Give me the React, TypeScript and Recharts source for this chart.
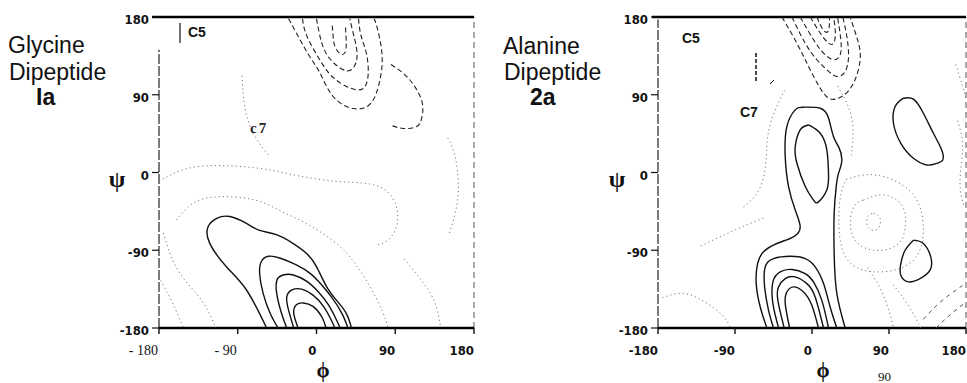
import React from "react";
import { ScatterChart, Scatter, XAxis, YAxis, ReferenceLine } from "recharts";

type P = [number, number]; // [phi, psi]

const phiTicks = [-180, -90, 0, 90, 180];
const psiTicks = [-180, -90, 0, 90, 180];

// ---- Glycine dipeptide (1a) ----
const glyS1: P[] = [[-57, -180], [-80, -136], [-103, -109], [-122, -82], [-124, -63], [-114, -53], [-99, -51], [-80, -59], [-65, -67], [-46, -72], [-27, -82], [-11, -94], [0, -109], [11.5, -132], [23, -148], [34, -163], [40, -180]];
const glyS2: P[] = [[-44, -180], [-53, -163], [-61, -140], [-65, -117], [-63, -103], [-55, -97], [-42, -99], [-23, -107], [-7, -117], [4, -128], [17, -144], [29, -163], [36, -180]];
const glyS3: P[] = [[-34, -180], [-40, -163], [-45.5, -140], [-45, -124], [-38, -118.6], [-26.5, -118.6], [-11, -126], [2, -138], [13.5, -153], [23, -171], [27, -180]];
const glyS4: P[] = [[-26, -180], [-32, -159], [-34, -144], [-28, -136], [-17, -135], [-4, -142], [8, -155], [17, -171], [21, -180]];
const glyS5: P[] = [[-21, -180], [-26, -163], [-23, -153], [-15, -151], [-4, -155], [6, -167], [11, -180]];

const glyD1: P[] = [[18, 170], [19, 158], [21, 146], [27, 137.5], [32, 138], [34, 148], [33, 170]];
const glyD2: P[] = [[0, 178], [6, 150], [15, 132], [27, 121], [38, 118], [45, 127], [46, 142], [42, 161], [38, 178]];
const glyD3: P[] = [[-16, 178], [-11, 158], [4, 130], [19, 110], [38, 98], [53, 97], [59, 113], [57, 138], [51, 158], [48, 178]];
const glyD4: P[] = [[-32, 178], [-27, 169], [-10, 138], [4, 115], [19, 88], [42, 74], [62, 80], [72, 105], [75, 135], [70, 165], [66, 178]];
const glyD5: P[] = [[85, 125], [99, 115], [112, 100], [121, 80], [120, 62], [114, 53], [99, 51], [84, 55]];

const glyT1: P[] = [[-160, -55], [-140, -35], [-110, -28], [-70, -32], [-40, -45], [-10, -60], [20, -80], [40, -100], [60, -130], [75, -160], [82, -180]];
const glyT2: P[] = [[-180, -10], [-150, 4], [-110, 8], [-60, 4], [-20, -4], [20, -10], [50, -12], [75, -18], [90, -36], [92, -60], [82, -78], [68, -84]];
const glyT3: P[] = [[-175, -70], [-165, -100], [-150, -125], [-130, -150], [-115, -180]];
const glyT4: P[] = [[-178, -125], [-165, -150], [-152, -180]];
const glyT5: P[] = [[-85, 112], [-82, 76], [-72, 45], [-55, 20]];
const glyT6: P[] = [[100, -100], [120, -125], [135, -150], [142, -180]];
const glyT7: P[] = [[150, 40], [158, 20], [162, -10], [160, -40], [152, -70]];

// ---- Alanine dipeptide (2a) ----
const alaS1: P[] = [[-4, 55], [9.6, 45.4], [17.4, 26], [19.3, -1], [17.4, -20], [7.6, -34], [1.8, -32], [-8, -16], [-17.7, 11], [-19.6, 30], [-13.8, 49.3], [-4, 55]];
const alaS2: P[] = [[-52.7, -180], [-60.5, -155.7], [-65.2, -128.6], [-63.6, -105.4], [-56.6, -91.8], [-41, -82.2], [-21.6, -74.4], [-13.8, -62.8], [-19.6, -43.5], [-27.4, -16.4], [-31.3, 18.4], [-29.4, 53.2], [-19.6, 72.5], [-10, 75.6], [9.6, 74.4], [19.3, 63], [25.1, 41.6], [31, 30], [34.9, 14.5], [31, -1], [28.3, -16.4], [25.9, -47.4], [25.9, -93.8], [29, -140], [38.8, -180]];
const alaS3: P[] = [[-45, -180], [-50.8, -159.5], [-55.4, -132.4], [-54.7, -109.2], [-45, -99.6], [-25.5, -96.9], [-8, -99.6], [3.7, -109.2], [13.5, -128.6], [21.2, -155.7], [29, -180]];
const alaS4: P[] = [[-39, -180], [-45.7, -151.8], [-45.7, -126.6], [-37.1, -115], [-23.5, -112.3], [-8, -117], [1.8, -126.6], [11.5, -148], [19.3, -180]];
const alaS5: P[] = [[-32.5, -180], [-39.9, -148], [-39.1, -132.4], [-31.3, -122.8], [-19.6, -120.9], [-6, -128.6], [3.7, -144], [13.5, -180]];
const alaS6: P[] = [[-26.2, -180], [-31.3, -151.8], [-29.4, -138.3], [-21.6, -132.4], [-9.9, -138.3], [-0.2, -153.7], [7.6, -180]];
const alaS7: P[] = [[106.9, 86], [118.6, 84.9], [130.2, 68.6], [141.9, 45.4], [151.6, 26.1], [152.8, 14.5], [145.8, 10.6], [134.1, 8.7], [118.6, 16.4], [103.8, 33.8], [95.2, 57], [97.2, 76.4], [106.9, 86]];
const alaS8: P[] = [[118.6, -78.3], [130.2, -82.2], [138.8, -97.6], [138, -113.1], [126.3, -122.8], [112.7, -126.6], [103.8, -118.9], [103.8, -105.4], [108.8, -90], [118.6, -78.3]];

const alaD1: P[] = [[-35.2, 180], [-17.7, 149.8], [-4.1, 122.8], [9.6, 97.6], [21.2, 85.3], [34.9, 88], [48.5, 103.4], [56.3, 130.5], [53.2, 153.7], [44.6, 180]];
const alaD2: P[] = [[-23.5, 180], [-8, 149.8], [5.7, 130.5], [17.4, 118.9], [29, 111.2], [38.8, 117], [42.7, 134.4], [40.7, 157.6], [36, 180]];
const alaD3: P[] = [[-13.8, 180], [1.8, 153.7], [13.5, 138.2], [25.1, 130.5], [32.9, 136.3], [33.7, 153.7], [29.8, 180]];
const alaD4: P[] = [[-2.1, 180], [9.6, 161.4], [19.3, 149.8], [25.9, 150.6], [27.1, 165.3], [25.1, 180]];
const alaD5: P[] = [[5.7, 180], [13.5, 164.5], [19.3, 164.5], [20.5, 180]];
const alaD6: P[] = [[130, -170], [150, -150], [170, -135], [180, -128]];
const alaD7: P[] = [[145, -180], [160, -166], [180, -150]];

const alaT1: P[] = [[72, -47], [78, -50], [80, -57], [78, -64], [72, -67], [66, -64], [64, -57], [66, -50], [72, -47]];
const alaT2: P[] = [[60, -32], [83.5, -26], [105, -38], [109, -63], [99, -84], [72, -90], [50, -78], [45, -55], [50, -38], [60, -32]];
const alaT3: P[] = [[40, -8], [75, -3], [115, -22], [130, -60], [120, -100], [82, -115], [45, -105], [32, -70], [33, -30], [40, -8]];
const alaT4: P[] = [[-130, -85], [-100, -71], [-75, -60], [-55, -52]];
const alaT5: P[] = [[-80, -40], [-62, -20], [-54, 10], [-52, 40], [-44, 70], [-32, 95]];
const alaT6: P[] = [[30, 100], [44, 72], [48, 45], [46, 20]];
const alaT7: P[] = [[95, -130], [110, -150], [122, -170], [127, -180]];
const alaT8: P[] = [[65, -110], [80, -135], [90, -160], [95, -180]];
const alaT9: P[] = [[-175, -145], [-150, -140], [-125, -150], [-105, -165], [-95, -180]];
const alaT10: P[] = [[168, 125], [176, 100], [180, 85]];
const alaT11: P[] = [[170, 60], [176, 30], [173, -10], [178, -40]];

const SOLID = { stroke: "#111", strokeWidth: 1.4 };
const DASH = { stroke: "#222", strokeWidth: 1.1, strokeDasharray: "5 3" };
const FAINT = { stroke: "#555", strokeWidth: 1, strokeDasharray: "4 4" };
const DOT = { stroke: "#777", strokeWidth: 1, strokeDasharray: "1.2 3" };

const glySeries = [
  { data: glyS1, line: SOLID }, { data: glyS2, line: SOLID }, { data: glyS3, line: SOLID },
  { data: glyS4, line: SOLID }, { data: glyS5, line: SOLID },
  { data: glyD1, line: DASH }, { data: glyD2, line: DASH }, { data: glyD3, line: DASH },
  { data: glyD4, line: DASH }, { data: glyD5, line: DASH },
  { data: glyT1, line: DOT }, { data: glyT2, line: DOT }, { data: glyT3, line: DOT },
  { data: glyT4, line: DOT }, { data: glyT5, line: DOT }, { data: glyT6, line: DOT }, { data: glyT7, line: DOT },
];

const alaSeries = [
  { data: alaS1, line: SOLID }, { data: alaS2, line: SOLID }, { data: alaS3, line: SOLID },
  { data: alaS4, line: SOLID }, { data: alaS5, line: SOLID }, { data: alaS6, line: SOLID },
  { data: alaS7, line: SOLID }, { data: alaS8, line: SOLID },
  { data: alaD1, line: DASH }, { data: alaD2, line: DASH }, { data: alaD3, line: DASH },
  { data: alaD4, line: DASH }, { data: alaD5, line: DASH }, { data: alaD6, line: FAINT }, { data: alaD7, line: FAINT },
  { data: alaT1, line: DOT }, { data: alaT2, line: DOT }, { data: alaT3, line: DOT }, { data: alaT4, line: DOT },
  { data: alaT5, line: DOT }, { data: alaT6, line: DOT }, { data: alaT7, line: DOT }, { data: alaT8, line: DOT },
  { data: alaT9, line: DOT }, { data: alaT10, line: DOT }, { data: alaT11, line: DOT },
];

const SANS = "'Liberation Sans', Arial, Helvetica, sans-serif";
const NARROW = "'Liberation Sans Narrow', 'DejaVu Sans Condensed', 'Liberation Sans', sans-serif";
const SERIF = "'Liberation Serif', 'Times New Roman', serif";

const pts = (a: P[]) => a.map(([phi, psi]) => ({ phi, psi }));
const noDot = () => <g />;

function XTick(props: any) {
  const { x, y, payload, serifNeg } = props;
  const v = payload.value;
  const serif = serifNeg && v < 0;
  return (
    <g>
      <line x1={x} x2={x} y1={y} y2={y + 6} stroke="#111" strokeWidth={1.4} />
      {serif ? (
        <text x={x - 1} y={y + 27} textAnchor="end" fontFamily={SERIF} fontSize={14} fill="#111">
          {`- ${Math.abs(v)}`}
        </text>
      ) : (
        <text x={x} y={y + 27} textAnchor="end" fontFamily={NARROW} fontWeight={700} fontSize={13} fill="#111">
          {v}
        </text>
      )}
    </g>
  );
}

function YTick(props: any) {
  const { x, y, payload } = props;
  return (
    <g>
      <line x1={x - 7} x2={x} y1={y} y2={y} stroke="#111" strokeWidth={1.2} />
      <text x={x - 10} y={y + 7} textAnchor="end" fontFamily={NARROW} fontWeight={700} fontSize={13} fill="#111">
        {payload.value}
      </text>
    </g>
  );
}

function Panel({ width, yw, right, series, serifNeg, axisTop, topStart }: any) {
  return (
    <ScatterChart width={width} height={383} margin={{ top: 17, right, bottom: 25, left: 0 }}>
      <XAxis
        type="number"
        dataKey="phi"
        domain={[-180, 180]}
        ticks={phiTicks}
        interval={0}
        tickLine={false}
        tickSize={0}
        tickMargin={0}
        height={30}
        axisLine={{ stroke: "#000", strokeWidth: 2.4 }}
        tick={(p: any) => <XTick {...p} serifNeg={serifNeg} />}
      />
      <YAxis
        type="number"
        dataKey="psi"
        domain={[-180, 180]}
        ticks={psiTicks}
        interval={0}
        width={yw}
        tickLine={false}
        tickSize={0}
        tickMargin={0}
        axisLine={false}
        tick={(p: any) => <YTick {...p} />}
      />
      <ReferenceLine
        segment={[{ x: -180, y: -180 }, { x: -180, y: axisTop }]}
        stroke="#222"
        strokeWidth={1.2}
        strokeDasharray="10 2"
      />
      <ReferenceLine x={180} stroke="#555" strokeWidth={1} strokeDasharray="6 4" />
      <ReferenceLine
        segment={[{ x: topStart, y: 180 }, { x: 180, y: 180 }]}
        ifOverflow="visible"
        stroke="#000"
        strokeWidth={2.4}
      />
      {series.map((s: any, i: number) => (
        <Scatter
          key={i}
          data={pts(s.data)}
          line={s.line}
          lineJointType="natural"
          shape={noDot}
          isAnimationActive={false}
        />
      ))}
    </ScatterChart>
  );
}

export default function App() {
  return (
    <div
      style={{
        position: "absolute",
        left: 0,
        top: 0,
        width: 967,
        height: 383,
        overflow: "hidden",
        background: "#fff",
      }}
    >
      <div style={{ position: "absolute", left: 0, top: 0 }}>
        <Panel width={480} yw={159} right={6} series={glySeries} serifNeg axisTop={142} topStart={-188} />
      </div>
      <div style={{ position: "absolute", left: 480, top: 0 }}>
        <Panel width={487} yw={178} right={1} series={alaSeries} serifNeg={false} axisTop={177} topStart={-187} />
      </div>
      <svg
        width={967}
        height={383}
        style={{ position: "absolute", left: 0, top: 0, pointerEvents: "none" }}
      >
        <g fontFamily={SANS} fontSize={23} fill="#111">
          <text x={8} y={53}>Glycine</text>
          <text x={9} y={80}>Dipeptide</text>
          <text x={36} y={105} fontWeight={700}>Ia</text>
          <text x={503} y={54}>Alanine</text>
          <text x={504} y={80}>Dipeptide</text>
          <text x={530} y={105} fontWeight={700}>2a</text>
        </g>
        <g fontFamily={SERIF} fontWeight={700} fill="#111" textAnchor="middle">
          <text x={117} y={187} fontSize={24}>ψ</text>
          <text x={617} y={187} fontSize={24}>ψ</text>
          <text x={323} y={377} fontSize={21}>ϕ</text>
          <text x={823} y={377} fontSize={21}>ϕ</text>
        </g>
        <g fontFamily={SANS} fontWeight={700} fontSize={14} fill="#111">
          <text x={188} y={37}>C5</text>
          <text x={682} y={43}>C5</text>
          <text x={740} y={117}>C7</text>
        </g>
        <text x={250} y={133} fontFamily={SERIF} fontWeight={700} fontSize={15} letterSpacing={2} fill="#222">
          c7
        </text>
        <text x={878} y={381} fontFamily={SERIF} fontSize={13} fill="#111">90</text>
        <line x1={180} x2={180} y1={23} y2={43} stroke="#111" strokeWidth={1.2} />
        <line x1={756} x2={756} y1={53} y2={83} stroke="#111" strokeWidth={1.5} strokeDasharray="4 2" />
        <line x1={770} x2={774} y1={84} y2={80} stroke="#111" strokeWidth={1} />
      </svg>
    </div>
  );
}
